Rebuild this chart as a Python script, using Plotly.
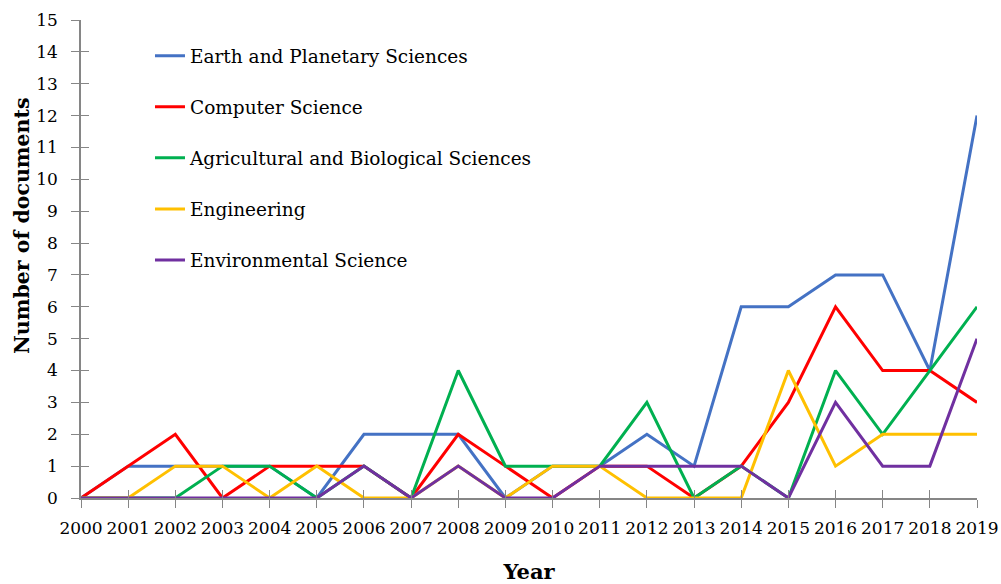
import plotly.graph_objects as go

years = list(range(2000, 2020))
earth = [0, 1, 1, 1, 1, 0, 2, 2, 2, 0, 1, 1, 2, 1, 6, 6, 7, 7, 4, 12]
computer = [0, 1, 2, 0, 1, 1, 1, 0, 2, 1, 0, 1, 1, 0, 1, 3, 6, 4, 4, 3]
agri = [0, 0, 0, 1, 1, 0, 1, 0, 4, 1, 1, 1, 3, 0, 1, 0, 4, 2, 4, 6]
engineering = [0, 0, 1, 1, 0, 1, 0, 0, 1, 0, 1, 1, 0, 0, 0, 4, 1, 2, 2, 2]
environmental = [0, 0, 0, 0, 0, 0, 1, 0, 1, 0, 0, 1, 1, 1, 1, 0, 3, 1, 1, 5]

series = [
    ("Earth and Planetary Sciences", earth, "#4472C4"),
    ("Computer Science", computer, "#FF0000"),
    ("Agricultural and Biological Sciences", agri, "#00B050"),
    ("Engineering", engineering, "#FFC000"),
    ("Environmental Science", environmental, "#7030A0"),
]

FONT = "DejaVu Serif"
AXIS_COLOR = "#868686"

fig = go.Figure()
for i, (name, vals, color) in enumerate(series):
    last = i == len(series) - 1
    fig.add_trace(go.Scatter(
        x=years, y=vals, name=name, mode="lines",
        line=dict(color=color, width=3),
        legendgroup=f"g{i}",
        xaxis="x2" if last else "x",
        yaxis="y2" if last else "y",
    ))

fig.update_layout(
    width=1001, height=584,
    margin=dict(l=81, r=24, t=20, b=86),
    paper_bgcolor="white", plot_bgcolor="white",
    font=dict(family=FONT, color="black", size=16),
    showlegend=True,
    legend=dict(
        x=0.077, y=0.964, xanchor="left", yanchor="top",
        bgcolor="rgba(0,0,0,0)",
        font=dict(family=FONT, size=18.5, color="black"),
        tracegroupgap=24,
        itemwidth=30,
    ),
    xaxis=dict(
        range=[2000, 2019], tickmode="array", tickvals=years,
        ticktext=[str(y) for y in years],
        showgrid=False, zeroline=False, automargin=False,
        showline=True, linecolor=AXIS_COLOR, linewidth=1.5,
        ticks="outside", ticklen=8, tickcolor=AXIS_COLOR, tickwidth=1.2,
        ticklabelstandoff=6,
        tickfont=dict(family=FONT, size=17, color="black"),
        title=dict(text="<b>Year</b>", font=dict(family=FONT, size=21), standoff=34),
    ),
    yaxis=dict(
        range=[0, 15], tickmode="linear", tick0=0, dtick=1,
        showgrid=False, zeroline=False, automargin=False,
        showline=True, linecolor=AXIS_COLOR, linewidth=1.5,
        ticks="outside", ticklen=8, tickcolor=AXIS_COLOR, tickwidth=1.2,
        ticklabelstandoff=10,
        tickfont=dict(family=FONT, size=17, color="black"),
    ),
    xaxis2=dict(
        overlaying="x", anchor="y2", side="bottom",
        range=[2000, 2019], tickmode="array", tickvals=years,
        showticklabels=False, showgrid=False, zeroline=False, showline=False,
        ticks="inside", ticklen=8, tickcolor=AXIS_COLOR, tickwidth=1.2,
    ),
    yaxis2=dict(
        overlaying="y", anchor="x2", side="left",
        range=[0, 15], tickmode="linear", tick0=0, dtick=1,
        showticklabels=False, showgrid=False, zeroline=False, showline=False,
        ticks="inside", ticklen=8, tickcolor=AXIS_COLOR, tickwidth=1.2,
    ),
    annotations=[dict(
        text="<b>Number of documents</b>", textangle=-90,
        xref="paper", yref="paper", x=-0.066, y=0.569,
        xanchor="center", yanchor="middle", showarrow=False,
        font=dict(family=FONT, size=20.5, color="black"),
    )],
)

fig.write_html("out.html", config={"displayModeBar": False},
               post_script="document.body.style.margin='0';")
